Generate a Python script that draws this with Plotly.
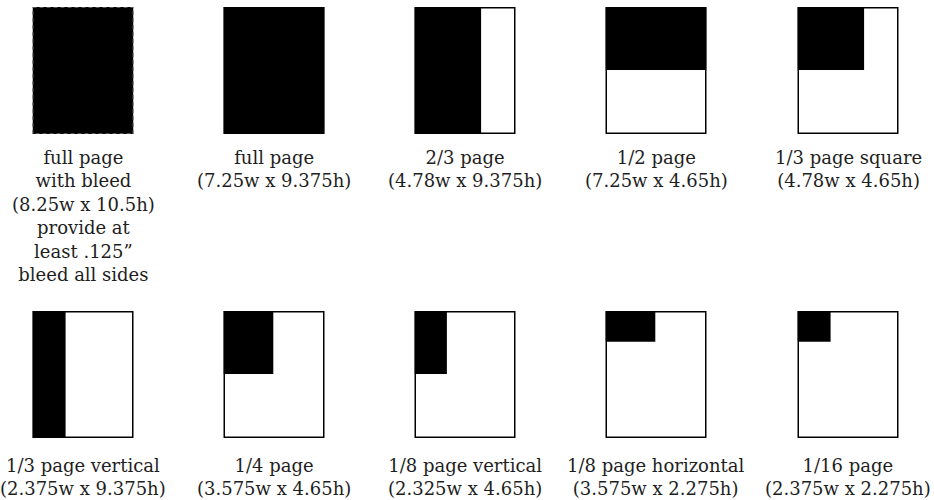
import plotly.graph_objects as go

# ---- data ----
labels = [
    "full page<br>with bleed<br>(8.25w x 10.5h)<br>provide at<br>least .125\u201d<br>bleed all sides",
    "full page<br>(7.25w x 9.375h)",
    "2/3 page<br>(4.78w x 9.375h)",
    "1/2 page<br>(7.25w x 4.65h)",
    "1/3 page square<br>(4.78w x 4.65h)",
    "1/3 page vertical<br>(2.375w x 9.375h)",
    "1/4 page<br>(3.575w x 4.65h)",
    "1/8 page vertical<br>(2.325w x 4.65h)",
    "1/8 page horizontal<br>(3.575w x 2.275h)",
    "1/16 page<br>(2.375w x 2.275h)",
]
ad_w = [8.25, 7.25, 4.78, 7.25, 4.78, 2.375, 3.575, 2.325, 3.575, 2.375]
ad_h = [10.5, 9.375, 9.375, 4.65, 4.65, 9.375, 4.65, 4.65, 2.275, 2.275]
page_w = [8.25, 7.25, 7.25, 7.25, 7.25, 7.25, 7.25, 7.25, 7.25, 7.25]
page_h = [10.5, 9.375, 9.375, 9.375, 9.375, 9.375, 9.375, 9.375, 9.375, 9.375]

# ---- layout (pixels) ----
W, H = 934, 500
col_centers = [83, 274, 465, 656, 848]
box_w = 101
row_tops = [7, 311]
box_h = 127
label_gap = [11, 15]

FONT = "DejaVu Serif"

fig = go.Figure()
annotations = []
shapes = []
layout_axes = {}

for i in range(10):
    r, c = divmod(i, 5)
    n = i + 1
    xa = "x" if n == 1 else f"x{n}"
    ya = "y" if n == 1 else f"y{n}"
    cx = col_centers[c]
    x0 = (cx - box_w / 2) / W
    x1 = (cx + box_w / 2) / W
    top = row_tops[r]
    y1 = 1 - top / H
    y0 = 1 - (top + box_h) / H
    layout_axes["xaxis" if n == 1 else f"xaxis{n}"] = dict(
        domain=[x0, x1], range=[0, page_w[i]], visible=False, anchor=ya, fixedrange=True)
    layout_axes["yaxis" if n == 1 else f"yaxis{n}"] = dict(
        domain=[y0, y1], range=[page_h[i], 0], visible=False, anchor=xa, fixedrange=True)

    # filled ad area (top-left aligned)
    w, h = ad_w[i], ad_h[i]
    fig.add_trace(go.Scatter(
        x=[0, w, w, 0, 0], y=[0, 0, h, h, 0], xaxis=xa, yaxis=ya,
        mode="lines", fill="toself", fillcolor="black",
        line=dict(width=0, color="black"), hoverinfo="skip", showlegend=False))

    # page frame
    if i == 0:
        line = dict(color="#555555", width=2, dash="4px,3px")
    else:
        line = dict(color="black", width=3)
    shapes.append(dict(type="rect", xref=xa, yref=ya, x0=0, x1=page_w[i],
                       y0=0, y1=page_h[i], line=line, fillcolor="rgba(0,0,0,0)"))

    annotations.append(dict(
        text=labels[i], xref="paper", yref="paper",
        x=cx / W, y=1 - (top + box_h + label_gap[r]) / H,
        xanchor="center", yanchor="top", showarrow=False, align="center",
        font=dict(family=FONT, size=18, color="#1e1e1e")))

fig.update_layout(
    width=W, height=H,
    margin=dict(l=0, r=0, t=0, b=0),
    paper_bgcolor="white", plot_bgcolor="white",
    showlegend=False,
    annotations=annotations, shapes=shapes,
    **layout_axes)

fig.write_html("out.html", config={"displayModeBar": False},
               post_script="document.body.style.margin='0';document.body.style.padding='0';")
